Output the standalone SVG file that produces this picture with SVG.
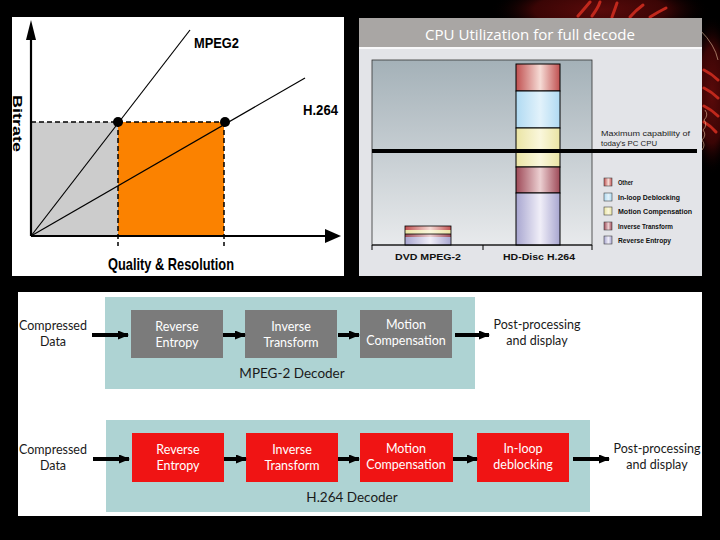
<svg xmlns="http://www.w3.org/2000/svg" width="720" height="540" viewBox="0 0 720 540">
<defs>
  <style>
    .lbl{font-family:Lato,"Liberation Sans",sans-serif;font-size:12.5px;fill:#1a1a1a;text-anchor:middle}
    .box{font-family:Lato,"Liberation Sans",sans-serif;font-size:12.5px;fill:#ffffff;text-anchor:middle}
    .cond{font-family:"Liberation Sans",sans-serif;font-weight:bold;fill:#000}
    .leg{font-family:"Liberation Sans",sans-serif;font-weight:bold;font-size:7px;fill:#111}
    .grey{fill:#7b7b7b}
    .red{fill:#f01414}
    .teal{fill:#aed3d3}
    .arr{stroke:#000;stroke-width:4;fill:none;marker-end:url(#ah)}
    .seg{stroke:#000;stroke-width:1}
  </style>
  <marker id="ah" markerUnits="userSpaceOnUse" markerWidth="11" markerHeight="9" refX="10" refY="4.5" orient="auto">
    <path d="M0,0 L11,4.5 L0,9 z" fill="#000"/>
  </marker>
  <linearGradient id="chartBg" x1="0" y1="0" x2="0" y2="1">
    <stop offset="0" stop-color="#a4b1b8"/>
    <stop offset="1" stop-color="#e8eaec"/>
  </linearGradient>
  <linearGradient id="gRed" x1="0" x2="1"><stop offset="0" stop-color="#c05050"/><stop offset="0.55" stop-color="#f6dcd6"/><stop offset="1" stop-color="#c05050"/></linearGradient>
  <linearGradient id="gBlue" x1="0" x2="1"><stop offset="0" stop-color="#b0daf2"/><stop offset="0.55" stop-color="#e2f2fb"/><stop offset="1" stop-color="#b0daf2"/></linearGradient>
  <linearGradient id="gYel" x1="0" x2="1"><stop offset="0" stop-color="#eae4a4"/><stop offset="0.55" stop-color="#faf7dc"/><stop offset="1" stop-color="#eae4a4"/></linearGradient>
  <linearGradient id="gMar" x1="0" x2="1"><stop offset="0" stop-color="#9e4a58"/><stop offset="0.55" stop-color="#ecd0d2"/><stop offset="1" stop-color="#9e4a58"/></linearGradient>
  <linearGradient id="gLav" x1="0" x2="1"><stop offset="0" stop-color="#a8a6d0"/><stop offset="0.55" stop-color="#f0eef8"/><stop offset="1" stop-color="#a8a6d0"/></linearGradient>
  <radialGradient id="swirl" cx="0.5" cy="0.5" r="0.5">
    <stop offset="0" stop-color="#5a0a0a"/>
    <stop offset="0.6" stop-color="#3a0505"/>
    <stop offset="1" stop-color="#000" stop-opacity="0"/>
  </radialGradient>
</defs>

<rect x="0" y="0" width="720" height="540" fill="#000"/>

<!-- background decoration -->
<g id="background">
  <ellipse cx="600" cy="10" rx="110" ry="30" fill="url(#swirl)"/>
  <ellipse cx="712" cy="95" rx="22" ry="80" fill="url(#swirl)"/>
  <g stroke="#c0281c" stroke-width="3" fill="none" stroke-linecap="round">
    <path d="M578,16 Q585,8 590,2"/>
    <path d="M592,16 Q598,8 600,2"/>
    <path d="M612,17 Q615,9 617,3"/>
    <path d="M630,17 Q636,10 643,5"/>
    <path d="M650,17 Q658,12 666,8"/>
    <path d="M704,70 Q712,74 718,80"/>
    <path d="M704,88 Q712,92 718,98"/>
    <path d="M704,106 Q712,110 718,116"/>
    <path d="M704,122 Q711,126 716,132"/>
  </g>
  <path d="M700,30 Q715,45 718,60" stroke="#e8c0a0" stroke-width="0.6" fill="none"/>
  <path d="M705,110 q4,5 -1,10 q4,5 -1,10 q4,5 -1,10 q4,5 0,10" stroke="#e8c0a0" stroke-width="0.6" fill="none"/>
</g>

<!-- Top-left: bitrate vs quality chart -->
<g id="bitrate-chart">
  <rect x="12" y="17" width="332" height="259" fill="#fff"/>
  <rect x="31" y="122" width="87" height="114" fill="#cccccc"/>
  <rect x="118" y="122" width="106" height="114" fill="#fb8200"/>
  <g stroke="#000" stroke-width="1.5" stroke-dasharray="5,3" fill="none">
    <line x1="31" y1="122" x2="118" y2="122"/>
    <line x1="118" y1="122" x2="224" y2="122"/>
    <line x1="118" y1="122" x2="118" y2="246"/>
    <line x1="224" y1="122" x2="224" y2="246"/>
  </g>
  <g stroke="#000" stroke-width="1.2">
    <line x1="31" y1="236" x2="190" y2="30"/>
    <line x1="31" y1="236" x2="305" y2="78"/>
  </g>
  <line x1="31" y1="38" x2="31" y2="236" stroke="#000" stroke-width="2.2"/>
  <line x1="31" y1="236" x2="326" y2="236" stroke="#000" stroke-width="2.2"/>
  <polygon points="31,20 26,40 36,40" fill="#000"/>
  <polygon points="341,236 325,229 325,243" fill="#000"/>
  <circle cx="118" cy="122" r="5" fill="#000"/>
  <circle cx="225" cy="122" r="5" fill="#000"/>
  <text class="cond" x="194" y="48" font-size="14" textLength="45" lengthAdjust="spacingAndGlyphs">MPEG2</text>
  <text class="cond" x="303" y="115" font-size="14" textLength="35" lengthAdjust="spacingAndGlyphs">H.264</text>
  <text class="cond" font-size="13" transform="translate(13,95) rotate(90)" textLength="57" lengthAdjust="spacingAndGlyphs">Bitrate</text>
  <text class="cond" x="108" y="270" font-size="17" textLength="126" lengthAdjust="spacingAndGlyphs">Quality &amp; Resolution</text>
</g>

<!-- Top-right: CPU utilization chart -->
<g id="cpu-chart">
  <rect x="359" y="18" width="343" height="258" fill="#e3e4e8"/>
  <rect x="359" y="18" width="343" height="29" fill="#a9a6a4"/>
  <line x1="359" y1="48" x2="702" y2="48" stroke="#fff" stroke-width="1.5"/>
  <text x="530" y="40" font-family="'Open Sans','Liberation Sans',sans-serif" font-size="15" fill="#fff" text-anchor="middle" textLength="210" lengthAdjust="spacingAndGlyphs">CPU Utilization for full decode</text>
  <rect x="372" y="60" width="220" height="185" fill="url(#chartBg)" stroke="#333" stroke-width="0.8"/>
  <!-- HD-Disc bar -->
  <rect class="seg" x="516" y="64" width="44" height="27" fill="url(#gRed)"/>
  <rect class="seg" x="516" y="91" width="44" height="37" fill="url(#gBlue)"/>
  <rect class="seg" x="516" y="128" width="44" height="39" fill="url(#gYel)"/>
  <rect class="seg" x="516" y="167" width="44" height="26" fill="url(#gMar)"/>
  <rect class="seg" x="516" y="193" width="44" height="52" fill="url(#gLav)"/>
  <!-- DVD bar -->
  <rect x="405" y="226" width="46" height="4" fill="url(#gRed)"/>
  <rect x="405" y="230" width="46" height="4" fill="url(#gYel)"/>
  <rect x="405" y="234" width="46" height="3" fill="url(#gMar)"/>
  <rect x="405" y="237" width="46" height="8" fill="url(#gLav)"/>
  <rect x="405" y="226" width="46" height="19" fill="none" stroke="#000" stroke-width="0.8"/>
  <line x1="405" y1="234" x2="451" y2="234" stroke="#000" stroke-width="0.8"/>
  <!-- axis -->
  <line x1="372" y1="245" x2="592" y2="245" stroke="#000" stroke-width="1"/>
  <g stroke="#000" stroke-width="1">
    <line x1="372" y1="245" x2="372" y2="250"/>
    <line x1="483" y1="245" x2="483" y2="250"/>
    <line x1="592" y1="245" x2="592" y2="250"/>
  </g>
  <line x1="372" y1="151" x2="697" y2="151" stroke="#000" stroke-width="4"/>
  <text x="428" y="260" font-family="'Liberation Sans',sans-serif" font-weight="bold" font-size="9" fill="#111" text-anchor="middle" textLength="66" lengthAdjust="spacingAndGlyphs">DVD MPEG-2</text>
  <text x="539" y="260" font-family="'Liberation Sans',sans-serif" font-weight="bold" font-size="9" fill="#111" text-anchor="middle" textLength="72" lengthAdjust="spacingAndGlyphs">HD-Disc H.264</text>
  <text x="601" y="136" font-family="'Liberation Sans',sans-serif" font-size="8" fill="#222" textLength="89" lengthAdjust="spacingAndGlyphs">Maximum capability of</text>
  <text x="601" y="146" font-family="'Liberation Sans',sans-serif" font-size="8" fill="#222" textLength="56" lengthAdjust="spacingAndGlyphs">today's PC CPU</text>
  <!-- legend -->
  <g stroke="#444" stroke-width="0.6">
    <rect x="604" y="178" width="8" height="8" fill="url(#gRed)"/>
    <rect x="604" y="193" width="8" height="8" fill="url(#gBlue)"/>
    <rect x="604" y="207" width="8" height="8" fill="url(#gYel)"/>
    <rect x="604" y="222" width="8" height="8" fill="url(#gMar)"/>
    <rect x="604" y="236" width="8" height="8" fill="url(#gLav)"/>
  </g>
  <text class="leg" x="618" y="185" textLength="15" lengthAdjust="spacingAndGlyphs">Other</text>
  <text class="leg" x="618" y="200" textLength="62" lengthAdjust="spacingAndGlyphs">In-loop Deblocking</text>
  <text class="leg" x="618" y="214" textLength="74" lengthAdjust="spacingAndGlyphs">Motion Compensation</text>
  <text class="leg" x="618" y="229" textLength="55" lengthAdjust="spacingAndGlyphs">Inverse Transform</text>
  <text class="leg" x="618" y="243" textLength="53" lengthAdjust="spacingAndGlyphs">Reverse Entropy</text>
</g>

<!-- Bottom: decoder pipelines -->
<rect x="18" y="292" width="684" height="224" fill="#fff"/>

<g id="mpeg2-decoder">
  <rect class="teal" x="105" y="297" width="370" height="92"/>
  <text x="292" y="378" font-family="Lato,'Liberation Sans',sans-serif" font-size="13.5" fill="#1a1a1a" text-anchor="middle">MPEG-2 Decoder</text>
</g>
<g id="mpeg2-input">
  <text class="lbl" x="53" y="330">Compressed</text>
  <text class="lbl" x="53" y="346">Data</text>
</g>
<g id="mpeg2-reverse-entropy">
  <rect class="grey" x="131" y="310" width="92" height="48"/>
  <text class="box" x="177" y="331">Reverse</text>
  <text class="box" x="177" y="347">Entropy</text>
</g>
<g id="mpeg2-inverse-transform">
  <rect class="grey" x="245" y="310" width="92" height="48"/>
  <text class="box" x="291" y="331">Inverse</text>
  <text class="box" x="291" y="347">Transform</text>
</g>
<g id="mpeg2-motion-compensation">
  <rect class="grey" x="360" y="310" width="92" height="48"/>
  <text class="box" x="406" y="329">Motion</text>
  <text class="box" x="406" y="345">Compensation</text>
</g>
<g id="mpeg2-output">
  <text class="lbl" x="537" y="329">Post-processing</text>
  <text class="lbl" x="537" y="345">and display</text>
</g>

<g id="h264-decoder">
  <rect class="teal" x="106" y="420" width="484" height="92"/>
  <text x="352" y="502" font-family="Lato,'Liberation Sans',sans-serif" font-size="13.5" fill="#1a1a1a" text-anchor="middle">H.264 Decoder</text>
</g>
<g id="h264-input">
  <text class="lbl" x="53" y="454">Compressed</text>
  <text class="lbl" x="53" y="470">Data</text>
</g>
<g id="h264-reverse-entropy">
  <rect class="red" x="132" y="433" width="92" height="49"/>
  <text class="box" x="178" y="454">Reverse</text>
  <text class="box" x="178" y="470">Entropy</text>
</g>
<g id="h264-inverse-transform">
  <rect class="red" x="246" y="433" width="92" height="49"/>
  <text class="box" x="292" y="454">Inverse</text>
  <text class="box" x="292" y="470">Transform</text>
</g>
<g id="h264-motion-compensation">
  <rect class="red" x="360" y="433" width="93" height="49"/>
  <text class="box" x="406" y="453">Motion</text>
  <text class="box" x="406" y="469">Compensation</text>
</g>
<g id="h264-inloop-deblocking">
  <rect class="red" x="477" y="433" width="92" height="49"/>
  <text class="box" x="523" y="453">In-loop</text>
  <text class="box" x="523" y="469">deblocking</text>
</g>
<g id="h264-output">
  <text class="lbl" x="657" y="453">Post-processing</text>
  <text class="lbl" x="657" y="469">and display</text>
</g>

<g id="connectors">
  <line class="arr" x1="92" y1="335" x2="128" y2="335"/>
  <line class="arr" x1="223" y1="335" x2="245" y2="335"/>
  <line class="arr" x1="338" y1="335" x2="359" y2="335"/>
  <line class="arr" x1="455" y1="335" x2="489" y2="335"/>
  <line class="arr" x1="93" y1="459" x2="129" y2="459"/>
  <line class="arr" x1="224" y1="459" x2="246" y2="459"/>
  <line class="arr" x1="338" y1="459" x2="359" y2="459"/>
  <line class="arr" x1="453" y1="459" x2="477" y2="459"/>
  <line class="arr" x1="573" y1="459" x2="609" y2="459"/>
</g>
</svg>
